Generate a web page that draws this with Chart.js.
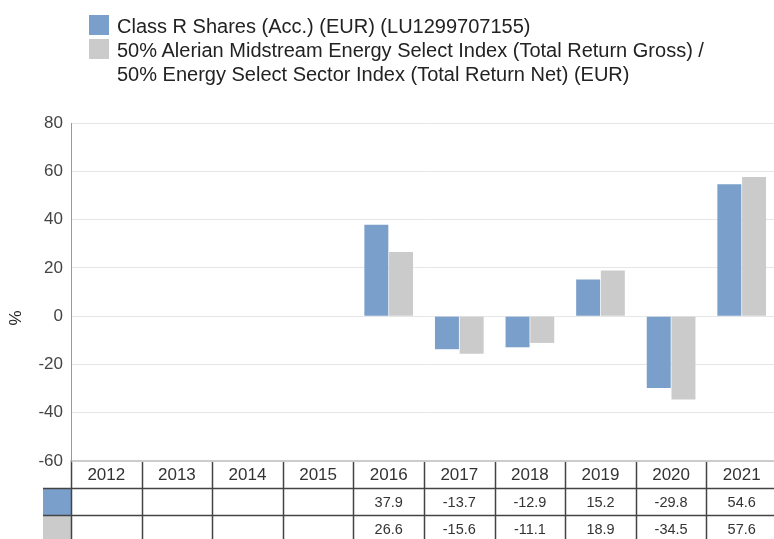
<!DOCTYPE html>
<html>
<head>
<meta charset="utf-8">
<script src="https://cdn.jsdelivr.net/npm/chart.js@4"></script>
<style>
  body { margin: 0; width: 774px; height: 539px; overflow: hidden; background: #fff; font-family: "Liberation Sans", Arial, sans-serif; }
  #wrap { position: relative; width: 778px; height: 539px; }
  #legend { position: absolute; left: 89px; top: 14px; font-size: 20px; line-height: 24px; color: #222; white-space: nowrap; }
  .item { position: relative; padding-left: 28px; }
  .swatch { position: absolute; left: 0; top: 1px; width: 20px; height: 20px; }
</style>
</head>
<body>
<div id="wrap">
  <div id="legend"></div>
  <canvas id="chart" width="778" height="539"></canvas>
</div>
<script>
const years = ["2012", "2013", "2014", "2015", "2016", "2017", "2018", "2019", "2020", "2021"];
const fundReturns = [null, null, null, null, 37.9, -13.7, -12.9, 15.2, -29.8, 54.6];
const indexReturns = [null, null, null, null, 26.6, -15.6, -11.1, 18.9, -34.5, 57.6];
const seriesNames = [
  ["Class R Shares (Acc.) (EUR) (LU1299707155)"],
  ["50% Alerian Midstream Energy Select Index (Total Return Gross) /", "50% Energy Select Sector Index (Total Return Net) (EUR)"]
];
const seriesColors = ["#7a9fca", "#cbcbcb"];
const yTitle = "%";

// html legend
const legend = document.getElementById("legend");
seriesNames.forEach((lines, i) => {
  const div = document.createElement("div");
  div.className = "item";
  div.innerHTML = '<span class="swatch" style="background:' + seriesColors[i] + '"></span>' + lines.join("<br>");
  legend.appendChild(div);
});

const FONT = '"Liberation Sans", Arial, sans-serif';

// data table under the plot + the "%" title
const tablePlugin = {
  id: "dataTable",
  afterDraw(chart) {
    const ctx = chart.ctx;
    const x = chart.scales.x;
    const top = chart.chartArea.bottom;
    const rowH = 27;
    const step = x.getPixelForValue(1) - x.getPixelForValue(0);
    const left = chart.chartArea.left;
    const right = chart.chartArea.right;
    const bottom = chart.height;
    const rows = [fundReturns, indexReturns];

    ctx.save();
    // swatches
    rows.forEach((r, i) => {
      ctx.fillStyle = seriesColors[i];
      ctx.fillRect(left - 28, top + rowH * (i + 1), 28, rowH);
    });
    ctx.strokeStyle = "#444";
    ctx.lineWidth = 1.5;
    ctx.beginPath();
    for (let i = 0; i <= years.length; i++) {
      const px = Math.round(x.getPixelForValue(i) - step / 2) + 0.5;
      ctx.moveTo(px, top + 1);
      ctx.lineTo(px, bottom);
    }
    for (let j = 1; j <= 2; j++) {
      const py = top + rowH * j + 0.5;
      ctx.moveTo(left - 28, py);
      ctx.lineTo(right, py);
    }
    ctx.stroke();

    ctx.textAlign = "center";
    ctx.textBaseline = "middle";
    ctx.fillStyle = "#333";
    ctx.font = "17px " + FONT;
    years.forEach((y, i) => {
      ctx.fillText(y, x.getPixelForValue(i), top + rowH / 2 + 1);
    });
    ctx.font = "14.5px " + FONT;
    rows.forEach((r, j) => {
      r.forEach((v, i) => {
        if (v === null) return;
        ctx.fillText(v.toFixed(1), x.getPixelForValue(i), top + rowH * (j + 1) + rowH / 2 + 1);
      });
    });

    // y title
    ctx.translate(16, 318);
    ctx.rotate(-Math.PI / 2);
    ctx.fillStyle = "#222";
    ctx.font = "17px " + FONT;
    ctx.fillText(yTitle, 0, 0);
    ctx.restore();
  }
};

new Chart(document.getElementById("chart"), {
  type: "bar",
  data: {
    labels: years,
    datasets: [
      { label: seriesNames[0].join(" "), data: fundReturns, backgroundColor: seriesColors[0] },
      { label: seriesNames[1].join(" "), data: indexReturns, backgroundColor: seriesColors[1] }
    ]
  },
  options: {
    responsive: false,
    animation: false,
    layout: { padding: { top: 123, left: 0, right: 1, bottom: 0 } },
    datasets: { bar: { categoryPercentage: 0.7, barPercentage: 0.97 } },
    plugins: { legend: { display: false }, tooltip: { enabled: false } },
    scales: {
      x: {
        ticks: { display: false },
        grid: { display: false },
        border: { color: "#cccccc", width: 2 },
        afterFit: (s) => { s.height = 78; }
      },
      y: {
        min: -60,
        max: 80,
        ticks: {
          stepSize: 20,
          padding: 8,
          color: "#444",
          font: { family: FONT, size: 17 }
        },
        grid: { color: "#e6e6e6", drawTicks: false },
        border: { color: "#999", width: 1 },
        afterFit: (s) => { s.width = 71; }
      }
    }
  },
  plugins: [tablePlugin]
});
</script>
</body>
</html>
